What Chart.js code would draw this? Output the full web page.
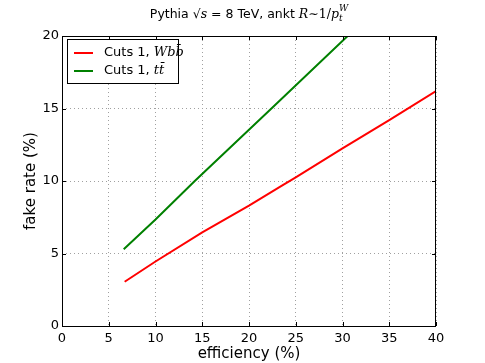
<!DOCTYPE html>
<html>
<head>
<meta charset="utf-8">
<script src="https://cdn.jsdelivr.net/npm/chart.js@4.4.1/dist/chart.umd.min.js"></script>
<style>
  html, body { margin: 0; padding: 0; background: #fff; }
  canvas { display: block; }
</style>
</head>
<body>
<canvas id="fakeChart" width="485" height="363"></canvas>
<script>
// efficiency (%) vs fake rate (%)
const wbbEff  = [6.7, 10, 15, 20, 23.3, 25, 30, 35, 40];
const wbbFake = [3.05, 4.45, 6.45, 8.3, 9.6, 10.25, 12.25, 14.2, 16.2];
const ttEff   = [6.6, 10, 14.2, 22.4, 30.55];
const ttFake  = [5.3, 7.35, 10.0, 15.0, 20.0];
const xTicks  = [0, 5, 10, 15, 20, 25, 30, 35, 40];
const yTicks  = [0, 5, 10, 15, 20];

const SERIES = [
  { label: 'Cuts 1, ', math: 'Wbb\u0304', x: wbbEff, y: wbbFake, color: '#ff0000' },
  { label: 'Cuts 1, ', math: 'tt\u0304', x: ttEff, y: ttFake, color: '#008000' }
];

const FONT = '"DejaVu Sans", sans-serif';
const SERIF = '"DejaVu Serif", serif';

function toPoints(xs, ys) {
  return xs.map((x, i) => ({ x, y: ys[i] }));
}

// frame, inward ticks, legend box and title, matplotlib style
const decorPlugin = {
  id: 'decor',
  afterDraw(chart) {
    const { ctx, chartArea: a, scales } = chart;
    ctx.save();
    ctx.strokeStyle = '#000';
    ctx.lineWidth = 1;
    ctx.strokeRect(a.left + 0.5, a.top + 0.5, a.right - a.left - 1, a.bottom - a.top);

    ctx.beginPath();
    xTicks.forEach(v => {
      const px = Math.round(scales.x.getPixelForValue(v)) + 0.5;
      ctx.moveTo(px, a.bottom); ctx.lineTo(px, a.bottom - 4);
      ctx.moveTo(px, a.top); ctx.lineTo(px, a.top + 4);
    });
    yTicks.forEach(v => {
      const py = Math.round(scales.y.getPixelForValue(v)) + 0.5;
      ctx.moveTo(a.left, py); ctx.lineTo(a.left + 4, py);
      ctx.moveTo(a.right, py); ctx.lineTo(a.right - 4, py);
    });
    ctx.stroke();

    // legend
    const lx = a.left + 5, ly = a.top + 3, lw = 111, lh = 44;
    ctx.fillStyle = '#fff';
    ctx.fillRect(lx, ly, lw, lh);
    ctx.strokeStyle = '#000';
    ctx.strokeRect(lx + 0.5, ly + 0.5, lw, lh);
    SERIES.forEach((s, i) => {
      const yy = ly + 14 + i * 18;
      ctx.strokeStyle = s.color;
      ctx.lineWidth = 2;
      ctx.beginPath();
      ctx.moveTo(lx + 7, yy); ctx.lineTo(lx + 26, yy);
      ctx.stroke();
      ctx.fillStyle = '#000';
      ctx.textBaseline = 'middle';
      ctx.textAlign = 'left';
      ctx.font = '13px ' + FONT;
      ctx.fillText(s.label, lx + 37, yy);
      const w = ctx.measureText(s.label).width;
      ctx.font = 'italic 13px ' + SERIF;
      ctx.fillText(s.math, lx + 37 + w, yy);
    });

    // title
    const parts = [
      { t: 'Pythia ', f: '12.5px ' + FONT, dy: 0 },
      { t: '\u221A', f: '12.5px ' + SERIF, dy: 0 },
      { t: 's', f: 'italic 12.5px ' + SERIF, dy: 0 },
      { t: ' = 8 TeV, ankt ', f: '12.5px ' + FONT, dy: 0 },
      { t: 'R', f: 'italic 12.5px ' + SERIF, dy: 0 },
      { t: '\u223C1/', f: '12.5px ' + SERIF, dy: 0 },
      { t: 'p', f: 'italic 12.5px ' + SERIF, dy: 0 },
      { t: 't', f: 'italic 9px ' + SERIF, dy: 3 },
      { t: 'W', f: 'italic 9px ' + SERIF, dy: -7, back: true }
    ];
    ctx.fillStyle = '#000';
    ctx.textBaseline = 'alphabetic';
    let total = 0, lastW = 0;
    parts.forEach(p => {
      ctx.font = p.f;
      const w = ctx.measureText(p.t).width;
      if (p.back) total += Math.max(0, w - lastW); else total += w;
      lastW = w;
    });
    let x = (a.left + a.right) / 2 - total / 2;
    let prevX = x;
    parts.forEach(p => {
      ctx.font = p.f;
      const px = p.back ? prevX : x;
      ctx.fillText(p.t, px, 18 + p.dy);
      const w = ctx.measureText(p.t).width;
      if (!p.back) { prevX = x; x += w; }
    });
    ctx.restore();
  }
};

const gridStyle = { color: '#a0a0a0', drawTicks: false, lineWidth: 1 };

new Chart(document.getElementById('fakeChart'), {
  type: 'scatter',
  data: {
    datasets: SERIES.map(s => ({
      label: s.label + s.math,
      data: toPoints(s.x, s.y),
      showLine: true,
      borderColor: s.color,
      backgroundColor: s.color,
      borderWidth: 2,
      pointRadius: 0,
      tension: 0
    }))
  },
  options: {
    responsive: false,
    devicePixelRatio: 1,
    animation: false,
    layout: { padding: { top: 36, right: 49, left: 22, bottom: 0 } },
    plugins: {
      legend: { display: false },
      tooltip: { enabled: false },
      title: { display: false }
    },
    scales: {
      x: {
        type: 'linear',
        min: 0,
        max: 40,
        afterBuildTicks: axis => { axis.ticks = xTicks.map(v => ({ value: v })); },
        afterFit: axis => { axis.height = 37; },
        grid: gridStyle,
        border: { display: false, dash: [1, 3] },
        ticks: { color: '#000', padding: 5, font: { family: FONT, size: 13 }, maxRotation: 0 },
        title: { display: true, text: 'efficiency (%)', color: '#000', font: { family: FONT, size: 15 }, padding: { top: 0, bottom: 0 } }
      },
      y: {
        type: 'linear',
        min: 0,
        max: 20,
        afterBuildTicks: axis => { axis.ticks = yTicks.map(v => ({ value: v })); },
        afterFit: axis => { axis.width = 40; },
        grid: gridStyle,
        border: { display: false, dash: [1, 3] },
        ticks: { color: '#000', padding: 3, font: { family: FONT, size: 13 } },
        title: { display: true, text: 'fake rate (%)', color: '#000', font: { family: FONT, size: 15 }, padding: { top: 0, bottom: 0 } }
      }
    }
  },
  plugins: [decorPlugin]
});
</script>
</body>
</html>
